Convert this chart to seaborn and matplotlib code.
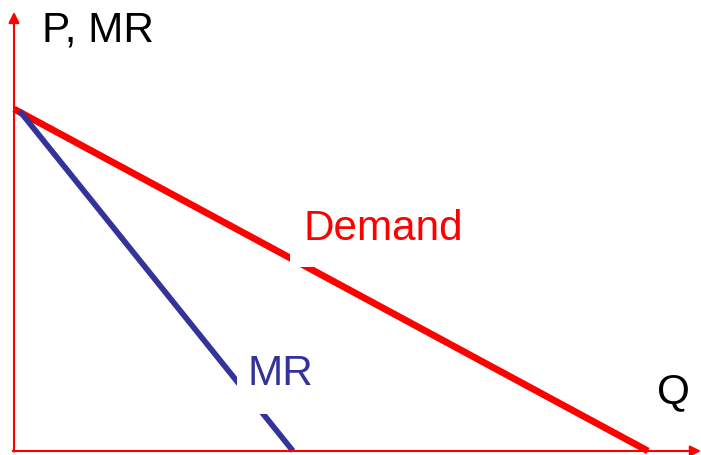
import matplotlib
matplotlib.use("Agg")
import matplotlib.pyplot as plt
import seaborn as sns
import pandas as pd
from matplotlib.patches import Rectangle

# Data (quantity, price)
demand_q = [0.0, 10.0]
demand_p = [10.0, 0.0]
mr_q = [0.09, 4.4]
mr_p = [9.94, 0.0]

labels = ["Demand", "MR"]
label_q = [4.56, 3.69]
label_p = [6.20, 1.96]

sns.set_style("white")
plt.rcParams['font.family'] = ['Liberation Sans', 'DejaVu Sans']

fig = plt.figure(figsize=(7.01, 4.56), dpi=100)
ax = fig.add_axes([0, 0, 1, 1])
ax.set_xlim(-0.221, 10.836)
ax.set_ylim(-0.117, 13.216)
ax.axis("off")

red = "#FF0000"
blue = "#333399"

df_d = pd.DataFrame({"Q": demand_q, "P": demand_p})
df_m = pd.DataFrame({"Q": mr_q, "P": mr_p})
sns.lineplot(data=df_d, x="Q", y="P", ax=ax, color=red, lw=4.9,
             solid_capstyle="butt", zorder=2)
sns.lineplot(data=df_m, x="Q", y="P", ax=ax, color=blue, lw=4.1,
             solid_capstyle="butt", zorder=3)

# axes with arrows
ax.annotate("", xy=(0, 12.84), xytext=(0, -0.02),
            arrowprops=dict(arrowstyle="-|>", color=red, lw=1.5,
                            mutation_scale=16, shrinkA=0, shrinkB=0), zorder=4)
ax.annotate("", xy=(10.836, 0), xytext=(-0.02, 0),
            arrowprops=dict(arrowstyle="-|>", color=red, lw=1.5,
                            mutation_scale=16, shrinkA=0, shrinkB=0), zorder=4)

# white backgrounds behind labels
ax.add_patch(Rectangle((4.35, 5.38), 2.95, 2.1, facecolor="white",
                       edgecolor="none", zorder=5))
ax.add_patch(Rectangle((3.52, 1.08), 1.35, 2.0, facecolor="white",
                       edgecolor="none", zorder=5))

fs = 30.4
ax.text(label_q[0], label_p[0], labels[0], color=red, fontsize=fs,
        va="baseline", ha="left", zorder=6)
ax.text(label_q[1], label_p[1], labels[1], color=blue, fontsize=fs,
        va="baseline", ha="left", zorder=6)
ax.text(0.44, 11.99, "P, MR", color="black", fontsize=fs,
        va="baseline", ha="left", zorder=6)
ax.text(10.14, 1.43, "Q", color="black", fontsize=fs,
        va="baseline", ha="left", zorder=6)

fig.savefig("out.png", dpi=100)
